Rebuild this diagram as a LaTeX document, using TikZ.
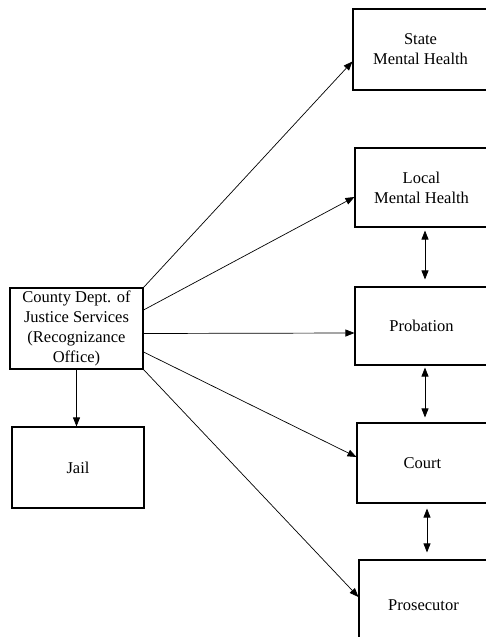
\documentclass[tikz,border=0pt]{standalone}
\usepackage{fontspec}
\setmainfont{Liberation Serif}
\usetikzlibrary{arrows.meta}

\begin{document}
\begin{tikzpicture}[x=1pt, y=-1pt,
    box/.style={draw, rectangle, line width=1.1pt, inner sep=2pt, align=center,
      font=\fontsize{16.5}{20}\selectfont},
    link/.style={-{Triangle[length=9pt,width=7pt]}, line width=0.7pt},
    twoway/.style={{Triangle[length=9pt,width=7pt]}-{Triangle[length=9pt,width=7pt]}, line width=0.7pt}]
      \useasboundingbox (0,0) rectangle (485,637);
      % Boxes
      \node[box, minimum width=133pt, minimum height=81pt] (county) at (76.5, 328.5) {County Dept. of\\Justice Services\\(Recognizance\\Office)};
      \node[box, minimum width=132pt, minimum height=81pt] (jail) at (78, 467.5) {Jail};
      \node[box, minimum width=135pt, minimum height=81pt] (state) at (420.5, 49.5) {State\\Mental Health};
      \node[box, minimum width=133pt, minimum height=79pt] (local) at (421.5, 187.5) {Local\\Mental Health};
      \node[box, minimum width=133pt, minimum height=78pt] (probation) at (421.5, 326) {Probation};
      \node[box, minimum width=131pt, minimum height=80pt] (court) at (422.5, 463) {Court};
      \node[box, minimum width=129pt, minimum height=90pt] (prosecutor) at (423.5, 605) {Prosecutor};
      % Arrows
      \draw[link] (county.north east) -- ([yshift=-12pt]state.west);
      \draw[link] ([yshift=18.5pt]county.east) -- ([yshift=-9.5pt]local.west);
      \draw[link] ([yshift=-5pt]county.east) -- ([yshift=-7pt]probation.west);
      \draw[link] ([yshift=-23.5pt]county.east) -- ([yshift=6pt]court.west);
      \draw[link] (county.south east) -- ([yshift=8pt]prosecutor.west);
      \draw[link] (county.south) -- (county.south |- jail.north);
      \draw[twoway, shorten <=3pt, shorten >=7pt] ([xshift=3.5pt]local.south) -- ([xshift=3.5pt]local.south |- probation.north);
      \draw[twoway, shorten <=2pt, shorten >=5pt] ([xshift=3.5pt]probation.south) -- ([xshift=3.5pt]probation.south |- court.north);
      \draw[twoway, shorten <=5pt, shorten >=7pt] ([xshift=4.5pt]court.south) -- ([xshift=4.5pt]court.south |- prosecutor.north);
    \end{tikzpicture}
\end{document}
